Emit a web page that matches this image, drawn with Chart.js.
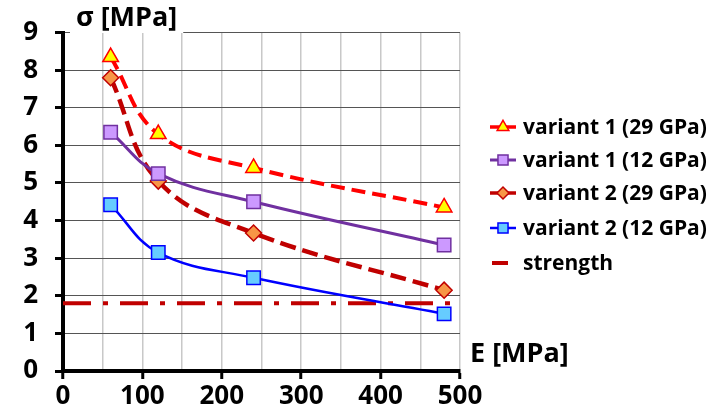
<!DOCTYPE html>
<html>
<head>
<meta charset="utf-8">
<script src="https://cdn.jsdelivr.net/npm/chart.js@4.4.1/dist/chart.umd.min.js"></script>
<style>
html,body{margin:0;padding:0;background:#fff;}
#wrap{width:724px;height:412px;position:relative;}
</style>
</head>
<body>
<div id="wrap"><canvas id="c" width="724" height="412"></canvas></div>
<script>
// ---- data ----
const eValues = [60, 120, 240, 480];
const v1_29 = [8.35, 6.3, 5.4, 4.35];
const v1_12 = [6.35, 5.25, 4.5, 3.35];
const v2_29 = [7.8, 5.05, 3.67, 2.15];
const v2_12 = [4.42, 3.15, 2.48, 1.52];
const strengthX = [0, 500];
const strengthValue = 1.8;
const seriesNames = ['variant 1 (29 GPa)', 'variant 1 (12 GPa)', 'variant 2 (29 GPa)', 'variant 2 (12 GPa)', 'strength'];
const xTitle = 'E [MPa]';
const yTitle = 'σ [MPa]';

const FONT = '"Open Sans", Lato, sans-serif';
const pts = (ys) => eValues.map((x, i) => ({x: x, y: ys[i]}));

const datasets = [
  {label: seriesNames[0], data: pts(v1_29), borderColor: '#FF0000', borderWidth: 4, borderDash: [14, 7],
   pointStyle: 'triangle', pointRadius: 9, pointBackgroundColor: '#FFFF00', pointBorderColor: '#FF0000', pointBorderWidth: 1.5, tension: 0.4},
  {label: seriesNames[1], data: pts(v1_12), borderColor: '#7030A0', borderWidth: 3,
   pointStyle: 'rect', pointRadius: 9.5, pointBackgroundColor: '#CC99FF', pointBorderColor: '#7030A0', pointBorderWidth: 1.5, tension: 0.4},
  {label: seriesNames[2], data: pts(v2_29), borderColor: '#C00000', borderWidth: 4.5, borderDash: [16, 7],
   pointStyle: 'rectRot', pointRadius: 8, pointBackgroundColor: '#F79646', pointBorderColor: '#C00000', pointBorderWidth: 1.5, tension: 0.4},
  {label: seriesNames[3], data: pts(v2_12), borderColor: '#0000FF', borderWidth: 2.5,
   pointStyle: 'rect', pointRadius: 9.5, pointBackgroundColor: '#66CCFF', pointBorderColor: '#0000FF', pointBorderWidth: 1.5, tension: 0.4},
  {label: seriesNames[4], data: strengthX.map(x => ({x: x, y: strengthValue})), borderColor: '#C00000', borderWidth: 4,
   borderDash: [28, 12, 5, 12], pointRadius: 0, tension: 0}
];

const CA = {left: 63, right: 460, top: 24, bottom: 371};

const decorPlugin = {
  id: 'decor',
  afterDraw(chart) {
    const ctx = chart.ctx;
    ctx.save();
    // y title over top gridline
    ctx.font = 'bold 27px ' + FONT;
    const tw = ctx.measureText(yTitle).width;
    ctx.fillStyle = '#fff';
    ctx.fillRect(70, 3, tw + 12, 30);
    ctx.fillStyle = '#000';
    ctx.textBaseline = 'middle';
    ctx.textAlign = 'left';
    ctx.fillText(yTitle, 76, 18);
    // x title
    ctx.fillText(xTitle, 470, 354);

    // legend
    ctx.font = 'bold 21px ' + FONT;
    const rowsY = [127, 160, 193, 228, 263];
    chart.data.datasets.forEach((ds, i) => {
      const y = rowsY[i];
      ctx.save();
      ctx.strokeStyle = ds.borderColor;
      ctx.lineWidth = Math.min(ds.borderWidth, 3.5);
      ctx.setLineDash([]);
      ctx.beginPath();
      if (i === 4) { ctx.lineWidth = 4; ctx.moveTo(492, y); ctx.lineTo(508, y); }
      else { ctx.moveTo(490, y); ctx.lineTo(516, y); }
      ctx.stroke();
      ctx.restore();
      if (ds.pointRadius > 0) {
        ctx.save();
        ctx.fillStyle = ds.pointBackgroundColor;
        ctx.strokeStyle = ds.pointBorderColor;
        ctx.lineWidth = 1.5;
        Chart.helpers.drawPoint(ctx, {pointStyle: ds.pointStyle, radius: ds.pointRadius * 0.75, borderWidth: 1.5, rotation: 0}, 503, y);
        ctx.restore();
      }
      ctx.fillStyle = '#000';
      ctx.textAlign = 'left';
      ctx.textBaseline = 'middle';
      ctx.fillText(ds.label, 523, y + 1);
    });
    ctx.restore();
  }
};

new Chart(document.getElementById('c'), {
  type: 'line',
  data: {datasets: datasets},
  plugins: [decorPlugin],
  options: {
    responsive: false,
    animation: false,
    events: [],
    layout: {padding: {left: 0, top: CA.top, right: 724 - CA.right, bottom: 0}},
    plugins: {legend: {display: false}, tooltip: {enabled: false}},
    scales: {
      x: {
        type: 'linear', min: 0, max: 500,
        afterFit(s) { s.height = 412 - CA.bottom; },
        ticks: {stepSize: 50, color: '#000', font: {family: FONT, size: 26, weight: 'bold'}, padding: 2,
          maxRotation: 0, autoSkip: false,
          callback: (v) => (v % 100 === 0 ? String(v) : '')},
        grid: {color: '#c8c8c8', lineWidth: 1.5, drawTicks: true, tickLength: 8, tickWidth: 3,
          tickColor: (c) => (c.tick && c.tick.value % 100 === 0 ? '#000' : 'rgba(0,0,0,0)')},
        border: {color: '#000', width: 4}
      },
      y: {
        type: 'linear', min: 0, max: 9,
        afterFit(s) { s.width = CA.left; },
        ticks: {stepSize: 1, color: '#000', font: {family: FONT, size: 26, weight: 'bold'}, padding: 17},
        grid: {color: '#555', lineWidth: 1, drawTicks: true, tickLength: 8, tickWidth: 3, tickColor: '#000'},
        border: {color: '#000', width: 4}
      }
    }
  }
});
</script>
</body>
</html>
